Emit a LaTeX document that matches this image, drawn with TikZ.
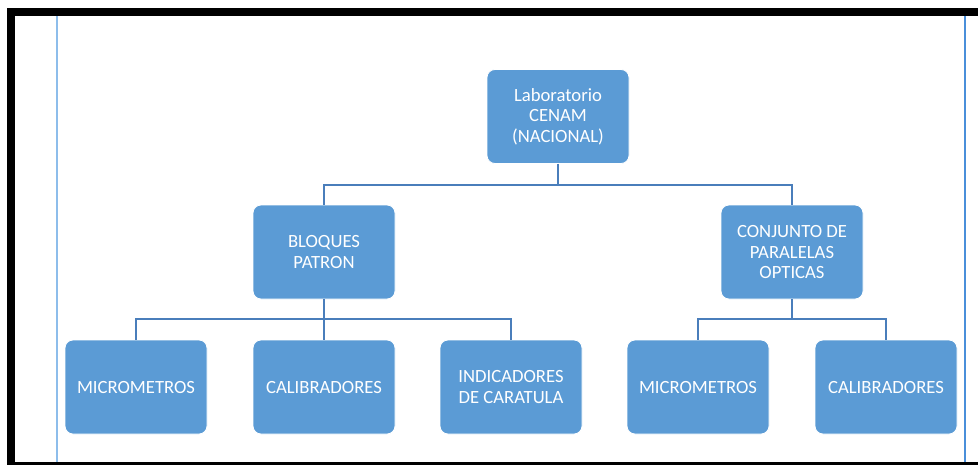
\documentclass[tikz,border=0pt]{standalone}
\usepackage{fontspec}
\setmainfont{Carlito}
\usetikzlibrary{positioning}

\definecolor{boxblue}{HTML}{5B9BD5}
\definecolor{linkblue}{HTML}{4A7EBB}
\definecolor{rulelight}{HTML}{8DBDEB}
\definecolor{ruleblue}{HTML}{4A8FDA}

\tikzset{
  orgbox/.style={rectangle, rounded corners=6pt, fill=boxblue, draw=white,
    line width=0.6pt, minimum width=106.5pt, minimum height=70.5pt,
    text=white, align=center, font=\fontsize{14}{15.4}\selectfont},
  link/.style={linkblue, line width=1.5pt}
}

\begin{document}
\begin{tikzpicture}[x=0.75pt, y=-0.75pt]
    \useasboundingbox (0,0) rectangle (978,465);
    % Page frame
    \fill[black] (7,8) rectangle (978,16);
    \fill[black] (7,8) rectangle (15,465);
    \fill[black] (7,462) rectangle (978,465);
    \draw[rulelight, line width=0.8pt] (57,16) -- (57,462);
    \draw[ruleblue, line width=0.8pt] (965,16) -- (965,462);

    % Top level
    \node[orgbox] (lab) at (558,116.5) {Laboratorio\\CENAM\\(NACIONAL)};

    % Second level
    \node[orgbox] (bloques) at (324,252) {BLOQUES\\PATRON};
    \node[orgbox] (conjunto) at (792,252) {CONJUNTO DE\\PARALELAS\\OPTICAS};

    % Third level
    \node[orgbox] (micro1) at (136,387) {MICROMETROS};
    \node[orgbox] (calib1) at (324,387) {CALIBRADORES};
    \node[orgbox] (indic) at (511,387) {INDICADORES\\DE CARATULA};
    \node[orgbox] (micro2) at (698,387) {MICROMETROS};
    \node[orgbox] (calib2) at (886,387) {CALIBRADORES};

    % Connectors
    \draw[link] (lab.south) -- ++(0,21) -| (bloques.north);
    \draw[link] (lab.south) -- ++(0,21) -| (conjunto.north);
    \foreach \child in {micro1, calib1, indic}
        \draw[link] (bloques.south) -- ++(0,20) -| (\child.north);
    \foreach \child in {micro2, calib2}
        \draw[link] (conjunto.south) -- ++(0,20) -| (\child.north);
\end{tikzpicture}
\end{document}
